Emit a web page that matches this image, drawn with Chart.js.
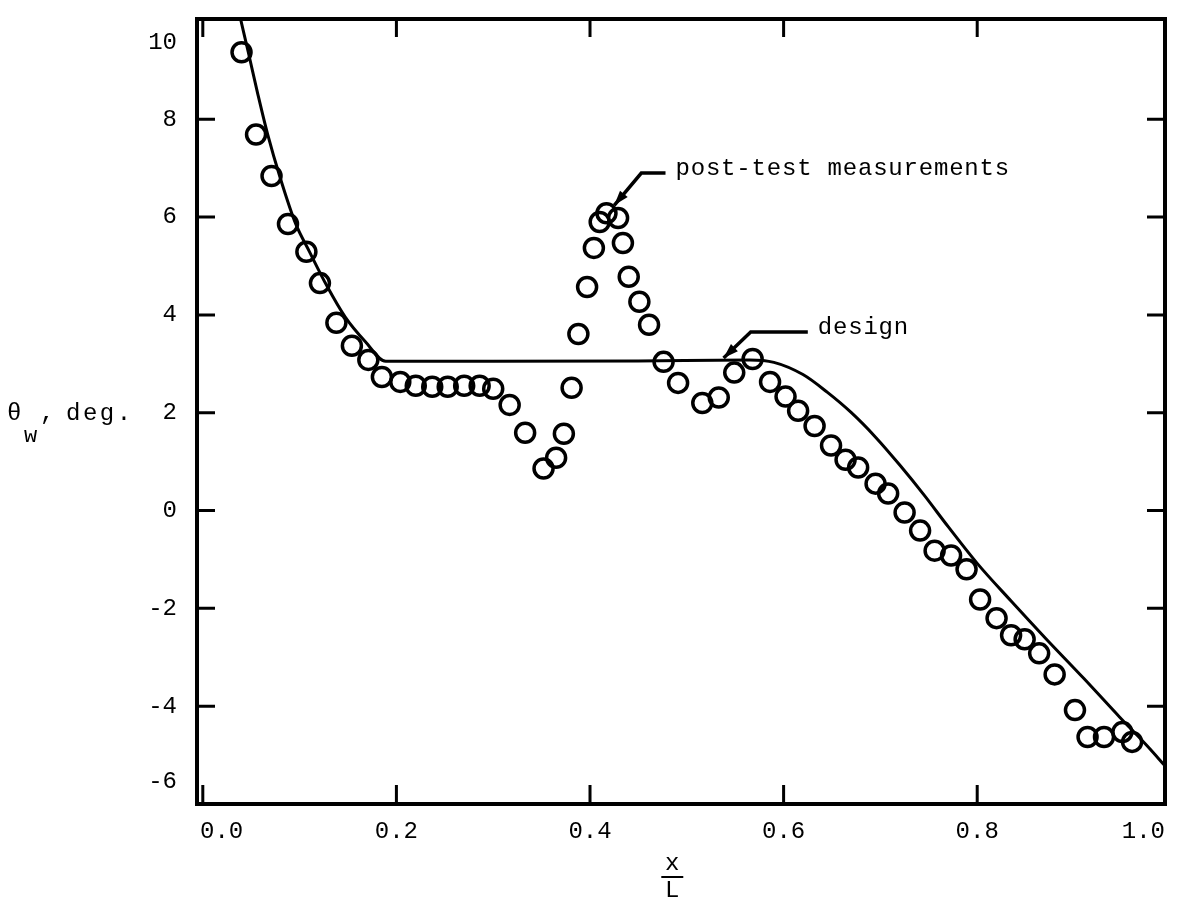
<!DOCTYPE html>
<html>
<head>
<meta charset="utf-8">
<script src="https://cdn.jsdelivr.net/npm/chart.js@4.4.0/dist/chart.umd.min.js"></script>
<style>
html, body { margin: 0; padding: 0; background: #fff; }
#wrap { width: 1178px; height: 904px; }
</style>
</head>
<body>
<div id="wrap"><canvas id="chart"></canvas></div>
<script>
// post-test measurements (circles)
var measX = [0.040, 0.055, 0.071, 0.088, 0.107, 0.121, 0.138, 0.154, 0.171, 0.185,
    0.204, 0.220, 0.237, 0.253, 0.270, 0.286, 0.300, 0.317, 0.333, 0.352,
    0.365, 0.373, 0.381, 0.388, 0.397, 0.404, 0.410, 0.417, 0.429, 0.434,
    0.440, 0.451, 0.461, 0.476, 0.491, 0.516, 0.533, 0.549, 0.568, 0.586,
    0.602, 0.615, 0.632, 0.649, 0.664, 0.677, 0.695, 0.708, 0.725, 0.741,
    0.756, 0.773, 0.789, 0.803, 0.820, 0.835, 0.849, 0.864, 0.880, 0.901,
    0.914, 0.931, 0.950, 0.960];
var measY = [9.37, 7.69, 6.84, 5.86, 5.29, 4.65, 3.84, 3.37, 3.08, 2.73,
    2.63, 2.55, 2.53, 2.53, 2.55, 2.55, 2.49, 2.16, 1.59, 0.86,
    1.08, 1.57, 2.51, 3.61, 4.57, 5.37, 5.90, 6.08, 5.98, 5.47,
    4.78, 4.27, 3.80, 3.04, 2.61, 2.20, 2.31, 2.82, 3.10, 2.63,
    2.33, 2.04, 1.73, 1.33, 1.04, 0.88, 0.55, 0.35, -0.04, -0.41,
    -0.82, -0.92, -1.20, -1.82, -2.20, -2.55, -2.63, -2.92, -3.35, -4.08,
    -4.63, -4.63, -4.53, -4.73];

// design curve
var designX = [0.039, 0.047, 0.057, 0.067, 0.080, 0.096, 0.110, 0.128, 0.147, 0.168,
    0.189, 0.30, 0.45, 0.565, 0.59, 0.62, 0.645, 0.67, 0.695, 0.72,
    0.745, 0.77, 0.80, 0.835, 0.871, 0.91, 0.947, 0.975, 0.994];
var designY = [10.05, 9.37, 8.5, 7.69, 6.8, 5.86, 5.3, 4.6, 3.96, 3.45,
    3.05, 3.05, 3.06, 3.08, 3.03, 2.78, 2.42, 2.00, 1.50, 0.93,
    0.32, -0.33, -1.08, -1.85, -2.62, -3.43, -4.22, -4.80, -5.22];

var xTicks = [0.0, 0.2, 0.4, 0.6, 0.8, 1.0];
var yTicks = [-6, -4, -2, 0, 2, 4, 6, 8, 10];

// leader lines: [tip, elbow, end] in data units, text after end
var notes = [
    { text: "post-test measurements", pts: [[0.425, 6.24], [0.453, 6.90], [0.478, 6.90]] },
    { text: "design", pts: [[0.538, 3.12], [0.566, 3.65], [0.625, 3.65]] }
];

var FONT = '"Liberation Mono", "DejaVu Sans Mono", monospace';

function toPts(xs, ys) {
    var out = [];
    for (var i = 0; i < xs.length; i++) out.push({ x: xs[i], y: ys[i] });
    return out;
}

var framePlugin = {
    id: 'frame',
    afterDraw: function (chart) {
        var ctx = chart.ctx;
        var a = chart.chartArea;
        var sx = chart.scales.x;
        var sy = chart.scales.y;
        ctx.save();
        ctx.strokeStyle = '#000';
        ctx.fillStyle = '#000';

        // frame
        ctx.lineWidth = 4;
        ctx.strokeRect(a.left, a.top, a.right - a.left, a.bottom - a.top);

        // inward ticks
        ctx.lineWidth = 3;
        ctx.beginPath();
        xTicks.forEach(function (v) {
            var px = sx.getPixelForValue(v);
            if (px <= a.left + 5 || px >= a.right - 5) return;
            ctx.moveTo(px, a.bottom); ctx.lineTo(px, a.bottom - 19);
            ctx.moveTo(px, a.top); ctx.lineTo(px, a.top + 18);
        });
        yTicks.forEach(function (v) {
            var py = sy.getPixelForValue(v);
            if (py <= a.top + 5 || py >= a.bottom - 5) return;
            ctx.moveTo(a.left, py); ctx.lineTo(a.left + 18, py);
            ctx.moveTo(a.right, py); ctx.lineTo(a.right - 18, py);
        });
        ctx.stroke();

        // tick labels
        ctx.font = '24px ' + FONT;
        ctx.textBaseline = 'alphabetic';
        ctx.textAlign = 'center';
        xTicks.forEach(function (v) {
            var s = v.toFixed(1);
            var w = ctx.measureText(s).width;
            var px = sx.getPixelForValue(v);
            px = Math.max(a.left + w / 2 + 3, Math.min(a.right - w / 2, px));
            ctx.fillText(s, px, a.bottom + 34);
        });
        ctx.textAlign = 'right';
        ctx.textBaseline = 'middle';
        yTicks.forEach(function (v) {
            var py = sy.getPixelForValue(v);
            py = Math.max(a.top + 24, Math.min(a.bottom - 22, py));
            ctx.fillText(String(v), a.left - 20, py);
        });

        // y title: theta_w, deg.
        ctx.textAlign = 'left';
        ctx.textBaseline = 'alphabetic';
        ctx.font = '24px ' + FONT;
        ctx.fillText('\u03b8', 7, 420);
        ctx.font = '22px ' + FONT;
        ctx.fillText('w', 24, 442);
        ctx.font = '24px ' + FONT;
        ctx.letterSpacing = '2.5px';
        ctx.fillText(',', 40, 420);
        ctx.fillText('deg.', 66, 420);
        ctx.letterSpacing = '0px';

        // x title: x over L
        var cx = sx.getPixelForValue(0.485);
        ctx.textAlign = 'center';
        ctx.fillText('x', cx, 870);
        ctx.lineWidth = 2;
        ctx.beginPath();
        ctx.moveTo(cx - 11, 877); ctx.lineTo(cx + 11, 877);
        ctx.stroke();
        ctx.fillText('L', cx, 897);

        // annotations with arrows
        notes.forEach(function (n) {
            var p = n.pts.map(function (q) {
                return [sx.getPixelForValue(q[0]), sy.getPixelForValue(q[1])];
            });
            ctx.lineWidth = 3.5;
            ctx.beginPath();
            ctx.moveTo(p[2][0], p[2][1]);
            ctx.lineTo(p[1][0], p[1][1]);
            ctx.lineTo(p[0][0], p[0][1]);
            ctx.stroke();
            var ang = Math.atan2(p[0][1] - p[1][1], p[0][0] - p[1][0]);
            var L = 15, W = 5;
            ctx.beginPath();
            ctx.moveTo(p[0][0], p[0][1]);
            ctx.lineTo(p[0][0] - L * Math.cos(ang) + W * Math.sin(ang), p[0][1] - L * Math.sin(ang) - W * Math.cos(ang));
            ctx.lineTo(p[0][0] - L * Math.cos(ang) - W * Math.sin(ang), p[0][1] - L * Math.sin(ang) + W * Math.cos(ang));
            ctx.closePath();
            ctx.fill();
            ctx.font = '24px ' + FONT;
            ctx.letterSpacing = '0.8px';
            ctx.textAlign = 'left';
            ctx.textBaseline = 'middle';
            ctx.fillText(n.text, p[2][0] + 10, p[2][1] - 4);
            ctx.letterSpacing = '0px';
        });
        ctx.restore();
    }
};

var ctx = document.getElementById('chart').getContext('2d');
var chart = new Chart(ctx, {
    type: 'scatter',
    data: {
        datasets: [{
            label: 'design',
            type: 'line',
            data: toPts(designX, designY),
            borderColor: '#000',
            borderWidth: 3,
            pointRadius: 0,
            fill: false,
            cubicInterpolationMode: 'monotone'
        }, {
            label: 'post-test measurements',
            data: toPts(measX, measY),
            showLine: false,
            pointStyle: 'circle',
            pointRadius: 9.5,
            borderWidth: 3.5,
            borderColor: '#000',
            backgroundColor: 'rgba(0,0,0,0)'
        }]
    },
    options: {
        responsive: true,
        maintainAspectRatio: false,
        animation: false,
        devicePixelRatio: 1,
        layout: { padding: { top: 19, right: 5, left: 0, bottom: 0 } },
        plugins: { legend: { display: false }, tooltip: { enabled: false } },
        scales: {
            x: {
                type: 'linear',
                min: -0.006,
                max: 0.994,
                grid: { display: false },
                border: { display: false },
                ticks: { display: false },
                afterFit: function (s) { s.height = 100; }
            },
            y: {
                type: 'linear',
                min: -6,
                max: 10.05,
                grid: { display: false },
                border: { display: false },
                ticks: { display: false },
                afterFit: function (s) { s.width = 197; }
            }
        }
    },
    plugins: [framePlugin]
});
</script>
</body>
</html>
